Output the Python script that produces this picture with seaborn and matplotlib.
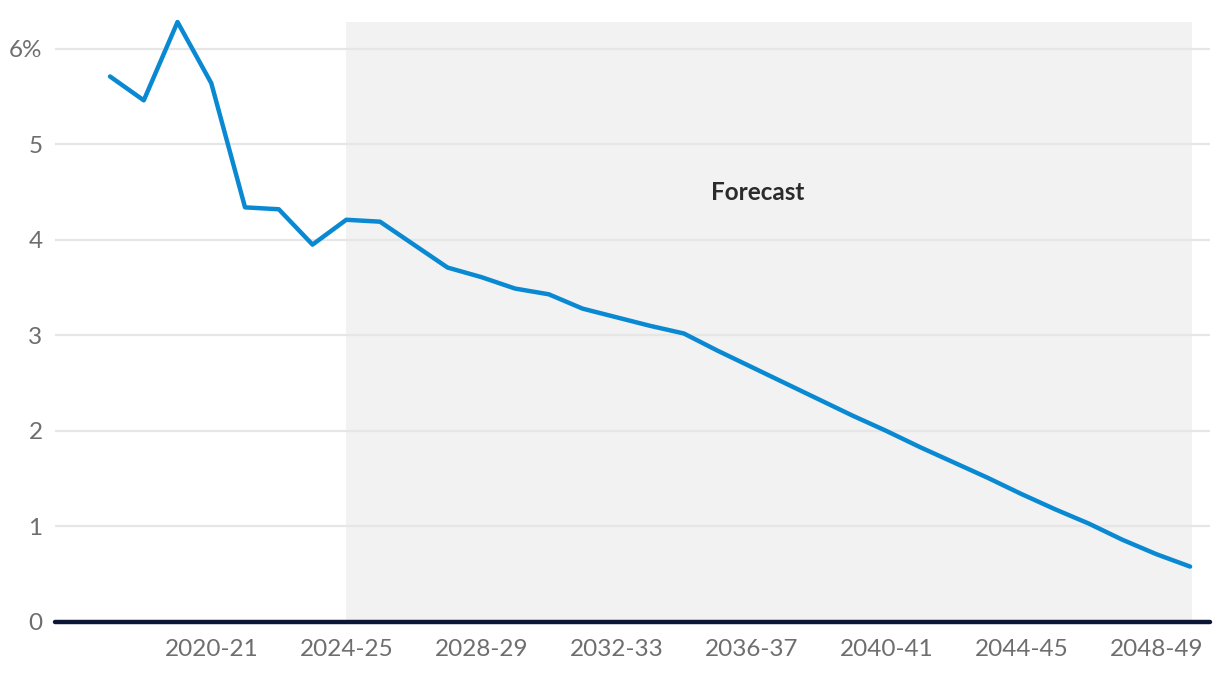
import matplotlib
matplotlib.use("Agg")
import matplotlib.pyplot as plt
import seaborn as sns
import pandas as pd

years = ["2017-18", "2018-19", "2019-20", "2020-21", "2021-22", "2022-23", "2023-24",
         "2024-25", "2025-26", "2026-27", "2027-28", "2028-29", "2029-30", "2030-31",
         "2031-32", "2032-33", "2033-34", "2034-35", "2035-36", "2036-37", "2037-38",
         "2038-39", "2039-40", "2040-41", "2041-42", "2042-43", "2043-44", "2044-45",
         "2045-46", "2046-47", "2047-48", "2048-49", "2049-50"]
values = [5.71, 5.46, 6.28, 5.64, 4.34, 4.32, 3.95,
          4.21, 4.19, 3.95, 3.71, 3.61, 3.49, 3.43,
          3.28, 3.19, 3.10, 3.02, 2.84, 2.67, 2.50,
          2.33, 2.16, 2.00, 1.83, 1.67, 1.51, 1.34,
          1.18, 1.03, 0.86, 0.71, 0.58]
tick_labels = ["2020-21", "2024-25", "2028-29", "2032-33", "2036-37", "2040-41", "2044-45", "2048-49"]
y_ticks = [0, 1, 2, 3, 4, 5, 6]
forecast_start = "2024-25"
forecast_label = "Forecast"

df = pd.DataFrame({"year": years, "value": values, "pos": range(len(years))})

sns.set_theme(style="white")
plt.rcParams["font.family"] = ["Lato", "DejaVu Sans"]

fig = plt.figure(figsize=(12.2, 6.76), dpi=100)
ax = fig.add_axes([55 / 1220, 1 - 622 / 676, (1210 - 55) / 1220, 600 / 676])

x0 = years.index(forecast_start)
x1 = len(years) - 1
ymax = 6.28

ax.axvspan(x0, x1 + 0.05, ymin=0, ymax=1, color="#f2f2f2", zorder=0, lw=0)
for y in y_ticks[1:]:
    ax.axhline(y, color="#e6e6e6", lw=1.6, zorder=1)

sns.lineplot(data=df, x="pos", y="value", ax=ax, color="#0a89d3", lw=3.2,
             zorder=3, clip_on=False)

ax.axhline(0, color="#0c1738", lw=3.2, zorder=4, clip_on=False)

ax.set_xlim(-1.63, x1 + 0.59)
ax.set_ylim(0, ymax)

ax.set_yticks(y_ticks)
ax.set_yticklabels([f"{v}%" if v == 6 else str(v) for v in y_ticks])
ax.set_xticks([years.index(t) for t in tick_labels])
ax.set_xticklabels(tick_labels)
ax.tick_params(axis="both", length=0, labelsize=17.5, labelcolor="#6e6e6e")
ax.tick_params(axis="x", pad=12)
ax.tick_params(axis="y", pad=9)
ax.set_xlabel("")
ax.set_ylabel("")
for s in ax.spines.values():
    s.set_visible(False)

ax.text(19.2, 4.5, forecast_label, ha="center", va="center", fontsize=17.5,
        fontweight="bold", color="#2b2b2b", zorder=5)

fig.savefig("out.png", dpi=100)
